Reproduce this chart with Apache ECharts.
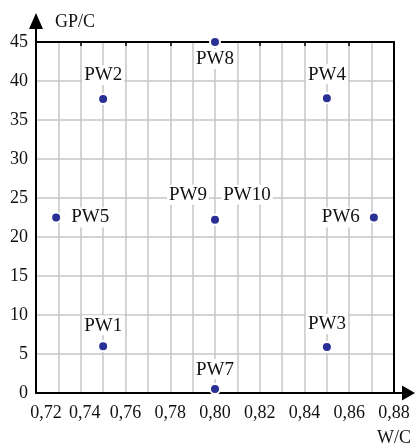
<!DOCTYPE html>
<html>
<head>
<meta charset="utf-8">
<script src="https://cdn.jsdelivr.net/npm/echarts@6/dist/echarts.min.js"></script>
<style>
html,body{margin:0;padding:0;background:#fff;}
#chart{width:415px;height:447px;}
</style>
</head>
<body>
<div id="chart"></div>
<script>
// ---- data ----
const pointNames = ['PW1','PW2','PW3','PW4','PW5','PW6','PW7','PW8','PW9','PW10'];
const wcValues   = [0.75, 0.75, 0.85, 0.85, 0.729, 0.871, 0.80, 0.80, 0.80, 0.80];
const gpcValues  = [6.0, 37.7, 5.9, 37.8, 22.5, 22.5, 0.5, 45.0, 22.2, 22.2];
const xTickMin = 0.72, xTickMax = 0.88, xTickStep = 0.02;
const yTickMin = 0, yTickMax = 45, yTickStep = 5;
const xAxisTitle = 'W/C';
const yAxisTitle = 'GP/C';

// ---- label placement (style) ----
const labelPlacement = {
  PW1:  {position:'top', distance:5},
  PW2:  {position:'top', distance:8},
  PW3:  {position:'top', distance:7},
  PW4:  {position:'top', distance:8},
  PW5:  {position:'right', distance:7},
  PW6:  {position:'left', distance:6},
  PW7:  {position:'top', distance:4},
  PW8:  {position:'bottom', distance:1},
  PW9:  {position:'top', distance:9, offset:[-27,0]},
  PW10: {position:'top', distance:9, offset:[32,0]}
};

const FONT = 'Liberation Serif';
const gridColor = '#c6c6c6';
const TICK_FS = 18;

const seriesData = pointNames.map((n, i) => ({
  name: n,
  value: [wcValues[i], gpcValues[i]],
  label: Object.assign({show: true, formatter: n}, labelPlacement[n])
}));

function fmtX(v) {
  const k = Math.round(v * 100);
  return (k / 100).toFixed(2).replace('.', ',');
}

const chart = echarts.init(document.getElementById('chart'), null, {renderer: 'canvas'});
chart.setOption({
  backgroundColor: '#fff',
  animation: false,
  grid: {left: 36, right: 21, top: 42, bottom: 52},
  xAxis: [{
    type: 'value', min: xTickMin, max: xTickMax, interval: xTickStep,
    name: xAxisTitle, nameLocation: 'end', nameGap: 0,
    nameTextStyle: {fontFamily: FONT, fontSize: TICK_FS, color: '#111', align: 'center', verticalAlign: 'top', padding: [36, 0, 0, 0]},
    axisLine: {show: true, onZero: false, lineStyle: {color: '#000', width: 2},
      symbol: ['none', 'path://M7.5,0 L15,13 L8.5,13 L8.5,21 L6.5,21 L6.5,13 L0,13 Z'],
      symbolSize: [15, 21], symbolOffset: [0, 10.5]},
    axisTick: {show: false},
    minorTick: {show: false, splitNumber: 2},
    splitLine: {show: true, lineStyle: {color: gridColor, width: 1.5}},
    minorSplitLine: {show: true, lineStyle: {color: gridColor, width: 1.5}},
    axisLabel: {
      fontFamily: FONT, fontSize: TICK_FS, color: '#111', margin: 11,
      formatter: function (v) {
        const k = Math.round(v * 100);
        if (k === 72) return '{a|' + fmtX(v) + '}';
        if (k === 74) return '{b|' + fmtX(v) + '}';
        return fmtX(v);
      },
      rich: {
        a: {fontFamily: FONT, fontSize: TICK_FS, color: '#111', padding: [0, 0, 0, 20]},
        b: {fontFamily: FONT, fontSize: TICK_FS, color: '#111', padding: [0, 0, 0, 8]}
      }
    }
  }, {
    type: 'value', position: 'top', min: xTickMin, max: xTickMax, interval: xTickStep,
    axisLine: {show: true, onZero: false, lineStyle: {color: '#000', width: 2}},
    axisTick: {show: true, inside: true, length: 4, lineStyle: {color: '#000', width: 1.5}},
    axisLabel: {show: false}, splitLine: {show: false}
  }],
  yAxis: [{
    type: 'value', min: yTickMin, max: yTickMax, interval: yTickStep,
    name: yAxisTitle, nameLocation: 'end', nameGap: 20,
    nameTextStyle: {fontFamily: FONT, fontSize: TICK_FS, color: '#111', align: 'left', verticalAlign: 'middle', padding: [0, 0, 0, 19]},
    axisLine: {show: true, onZero: false, lineStyle: {color: '#000', width: 2},
      symbol: ['none', 'path://M7,0 L14,16 L8,16 L8,29 L6,29 L6,16 L0,16 Z'],
      symbolSize: [14, 29], symbolOffset: [0, 14.5]},
    axisTick: {show: false},
    splitLine: {show: true, lineStyle: {color: gridColor, width: 1.5}},
    axisLabel: {fontFamily: FONT, fontSize: TICK_FS, color: '#111', margin: 8}
  }, {
    type: 'value', position: 'right', min: yTickMin, max: yTickMax, interval: yTickStep,
    axisLine: {show: true, onZero: false, lineStyle: {color: '#000', width: 2}},
    axisTick: {show: false}, axisLabel: {show: false}, splitLine: {show: false}
  }],
  series: [{
    type: 'scatter',
    xAxisIndex: 0, yAxisIndex: 0,
    clip: false,
    symbol: 'circle', symbolSize: 10,
    itemStyle: {color: '#2a2f96', borderColor: '#fff', borderWidth: 2, opacity: 1},
    label: {fontFamily: FONT, fontSize: 19, color: '#111', backgroundColor: '#fff', padding: [1, 2, 0, 2]},
    data: seriesData,
    z: 5
  }]
});
</script>
</body>
</html>
